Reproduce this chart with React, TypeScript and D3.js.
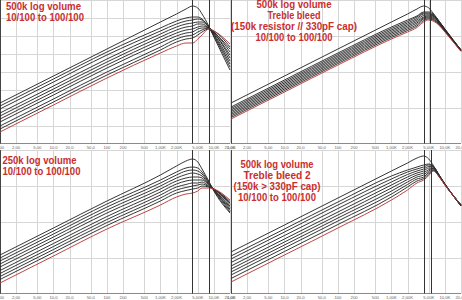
import React from "react";
import * as d3 from "d3";

// Frequencies (Hz) at which curve levels were read
const FREQS = [1, 10, 100, 1000, 2000, 3000, 4000, 5000, 6000, 8000, 10000, 20000];

// x-axis ticks
const TICK_FREQS = [1, 2, 5, 10, 20, 50, 100, 200, 500, 1000, 2000, 5000, 10000, 20000];
const TICK_LABELS = ["1,00", "2,00", "5,00", "10,0", "20,0", "50,0", "100", "200", "500", "1,00K", "2,00K", "5,00K", "10,0K", "20,0K"];

// Levels in dB: one row per frequency, 10 volume settings (100/100 ... 10/100) per row
const P1_LEVELS = [
  [-51.5, -53, -54.5, -56.5, -58, -59.5, -61, -63, -64.5, -66],
  [-38, -39.5, -41, -43, -44.5, -46, -47.5, -49.5, -51, -52.5],
  [-24.5, -26, -27.5, -29.5, -31, -32.5, -34, -36, -37.5, -39],
  [-11, -14, -15.5, -17, -18.5, -20, -21.5, -23.5, -25, -26.5],
  [-7, -10.5, -12, -13.5, -15, -16.5, -18, -19.5, -21, -23],
  [-4.5, -9, -10.5, -12, -13.5, -15, -16.5, -18, -19.5, -21.5],
  [-3, -8.5, -10, -11.5, -13, -14.5, -16, -17.5, -19, -21.5],
  [-4, -8.5, -9.5, -11, -12, -13.5, -14.5, -16, -17.5, -19.5],
  [-7, -9.5, -10, -11, -12, -13, -14, -15, -16, -17.5],
  [-13, -13.5, -13.5, -13.5, -14, -14, -14, -14, -14.5, -14.5],
  [-18.5, -18, -17.5, -17, -16.5, -16.5, -16, -16, -15.5, -15.5],
  [-35, -33.5, -32, -30.5, -29, -27.5, -26, -24.5, -23.5, -22],
];

const P2_LEVELS = [
  [-51.5, -53.5, -54.25, -55, -55.75, -56.5, -57.25, -58, -58.75, -59.5],
  [-38, -40, -40.75, -41.5, -42.25, -43, -43.75, -44.5, -45.25, -46],
  [-24.5, -26.5, -27.25, -28, -28.75, -29.5, -30.25, -31, -31.75, -32.5],
  [-11, -13.5, -14.25, -15, -15.75, -16.5, -17.25, -18, -18.75, -19.5],
  [-7, -10, -10.75, -11.5, -12.25, -13, -13.75, -14.5, -15.25, -16],
  [-4.5, -8, -8.5, -9.25, -10, -10.75, -11.5, -12.25, -13, -13.75],
  [-3, -6, -6.5, -7, -7.75, -8.5, -9, -9.5, -10.25, -11],
  [-4, -6, -6.5, -7, -7.5, -8, -8.5, -9, -9.5, -10],
  [-6.5, -7, -7.5, -7.75, -8, -8.5, -9, -9.5, -10, -10.5],
  [-11, -11, -11.25, -11.5, -11.75, -12, -12.25, -12.5, -12.75, -13],
  [-14.5, -14.5, -14.75, -15, -15, -15.25, -15.5, -15.5, -15.75, -16],
  [-25, -25, -25, -25, -25.25, -25.25, -25.5, -25.5, -25.5, -25.75],
];

const P3_LEVELS = [
  [-52.5, -54, -55.5, -57, -58.5, -60.25, -61.75, -63.25, -64.75, -66.5],
  [-39, -40.5, -42, -43.5, -45, -46.75, -48.25, -49.75, -51.25, -53],
  [-25.5, -27, -28.5, -30, -31.5, -33.25, -34.75, -36.25, -37.75, -39.5],
  [-12.5, -15, -16.5, -18, -19.5, -21, -22.5, -24, -25.5, -27.5],
  [-8, -11, -12.5, -14, -15.5, -17, -18.5, -20, -21.5, -23.5],
  [-5.5, -9, -10.5, -12.25, -14, -15.5, -17.25, -18.75, -20.25, -22],
  [-4.5, -8.5, -10, -11.5, -13.5, -15, -16.5, -18, -19.5, -21.5],
  [-6, -9, -10.5, -12, -13.5, -15, -16.5, -17.5, -19, -20.5],
  [-9.5, -11, -12, -13, -14, -15, -16, -17, -18, -19],
  [-15.5, -16, -16.5, -17, -17.25, -17.5, -18, -18.25, -18.5, -19],
  [-20.5, -20.25, -20, -20, -19.75, -19.75, -19.5, -19.5, -19.5, -19.5],
  [-31.5, -31, -30.25, -29.5, -28.75, -28, -27.25, -26.5, -25.75, -25],
];

const P4_LEVELS = [
  [-51, -53, -54.5, -56.25, -58, -59.5, -61, -62.5, -64.25, -66],
  [-37.5, -39.5, -41, -42.75, -44.5, -46, -47.5, -49, -50.75, -52.5],
  [-24, -26, -27.5, -29.25, -31, -32.5, -34, -35.5, -37.25, -39],
  [-10.5, -13, -14.5, -16, -17.5, -19, -20.5, -22, -23.5, -25],
  [-6.5, -10, -11, -12.25, -13.5, -14.75, -16, -17.25, -18.5, -20],
  [-4, -8.5, -9.5, -10.5, -11.5, -12.5, -13.5, -14.5, -15.5, -16.5],
  [-3, -7.5, -8.5, -9.5, -10.5, -11.5, -12.5, -13.5, -14.25, -15],
  [-4.5, -7, -7.5, -8.25, -9, -9.75, -10.5, -11.25, -12, -12.75],
  [-7.5, -8, -8.25, -8.5, -9, -9.25, -9.5, -10, -10.25, -10.5],
  [-13, -13, -13, -13.25, -13.25, -13.5, -13.5, -13.5, -13.75, -13.75],
  [-17, -17, -17, -17, -17.25, -17.25, -17.25, -17.25, -17.5, -17.5],
  [-28, -28, -28, -27.75, -27.75, -27.5, -27.5, -27.5, -27.25, -27.25],
];

// Cursor frequencies (Hz)
const P1_CURSORS = [3900, 8000];
const P2_CURSORS = [4050, 5300];
const P3_CURSORS = [3950, 8000];
const P4_CURSORS = [4000, 5400];

// Titles
const P1_TITLE = ["500k log volume", "10/100 to 100/100"];
const P2_TITLE = ["500k log volume", "Treble bleed", "(150k resistor // 330pF cap)", "10/100 to 100/100"];
const P3_TITLE = ["250k log volume", "10/100 to 100/100"];
const P4_TITLE = ["500k log volume", "Treble bleed 2", "(150k > 330pF cap)", "10/100 to 100/100"];

const PLOT_W = 230;
const PLOT_H = 144;
const RED = "#c92e2e";

type PanelProps = {
  x0: number;
  y0: number;
  levels: number[][];
  cursors: number[];
  gridStep: number;
  title: string[];
  titleAnchor: "start" | "middle";
  titleX: number;
  titleY: number;
  titleWidths: number[];
};

function Panel(p: PanelProps) {
  const x = d3.scaleLog().domain([1, 20000]).range([p.x0, p.x0 + PLOT_W]);
  const y = d3.scaleLinear().domain([-72, 0]).range([p.y0 + PLOT_H, p.y0]);
  const nCurves = p.levels[0].length;
  const curves = d3.range(nCurves).map((i) => p.levels.map((row, k) => ({ f: FREQS[k], v: row[i] })));
  const line = d3
    .line<{ f: number; v: number }>()
    .x((d) => x(d.f))
    .y((d) => y(d.v))
    .curve(d3.curveMonotoneX);
  const hGrid = d3.range(-72 + p.gridStep, 0.001, p.gridStep);
  const snap = (v: number) => Math.round(v) + 0.5;
  const axisY = snap(y(-72)) - 1;
  return (
    <g>
      {TICK_FREQS.map((f, i) => (
        <line key={"v" + i} x1={snap(x(f))} x2={snap(x(f))} y1={p.y0} y2={axisY} stroke="#d6d6d6" strokeWidth={1} />
      ))}
      {hGrid.map((g, i) => (
        <line key={"h" + i} x1={p.x0} x2={p.x0 + PLOT_W} y1={snap(y(g))} y2={snap(y(g))} stroke="#d6d6d6" strokeWidth={1} />
      ))}
      <line x1={p.x0} x2={p.x0 + PLOT_W} y1={axisY} y2={axisY} stroke="#8a8a8a" strokeWidth={1} />
      <line x1={snap(p.x0)} x2={snap(p.x0)} y1={p.y0} y2={axisY} stroke="#444" strokeWidth={1} />
      {TICK_FREQS.map((f, i) => (
        <text key={"t" + i} x={x(f)} y={axisY + 5} fontSize={4.2} fill="#666" textAnchor="middle" fontFamily="Liberation Sans, Arial, sans-serif">
          {TICK_LABELS[i]}
        </text>
      ))}
      {curves.map((c, i) => (
        <path key={"c" + i} d={line(c) || ""} fill="none" stroke={i === nCurves - 1 ? "#b83a3a" : "#2b2b2b"} strokeWidth={0.95} />
      ))}
      {p.cursors.map((f, i) => (
        <line key={"k" + i} x1={snap(x(f))} x2={snap(x(f))} y1={p.y0} y2={axisY} stroke="#333" strokeWidth={1} />
      ))}
      {p.title.map((t, i) => (
        <text
          key={"ti" + i}
          x={p.titleX}
          y={p.titleY + i * 11.3}
          fontSize={10.6}
          fontWeight="bold"
          fill={RED}
          textAnchor={p.titleAnchor}
          fontFamily="Liberation Sans, Arial, sans-serif"
          textLength={p.titleWidths[i]}
          lengthAdjust="spacingAndGlyphs"
        >
          {t}
        </text>
      ))}
    </g>
  );
}

export default function App() {
  return (
    <svg width={462} height={300} style={{ position: "absolute", left: 0, top: 0, background: "#fff" }}>
      <rect x={0} y={0} width={462} height={300} fill="#fff" />
      <Panel x0={0} y0={0} levels={P1_LEVELS} cursors={P1_CURSORS} gridStep={9} title={P1_TITLE}
        titleAnchor="start" titleX={6} titleY={9.5} titleWidths={[75, 78]} />
      <Panel x0={231} y0={0} levels={P2_LEVELS} cursors={P2_CURSORS} gridStep={18} title={P2_TITLE}
        titleAnchor="middle" titleX={294} titleY={7.5} titleWidths={[75, 53, 126, 77]} />
      <Panel x0={0} y0={150} levels={P3_LEVELS} cursors={P3_CURSORS} gridStep={18} title={P3_TITLE}
        titleAnchor="start" titleX={2.5} titleY={163.5} titleWidths={[74, 78]} />
      <Panel x0={231} y0={150} levels={P4_LEVELS} cursors={P4_CURSORS} gridStep={18} title={P4_TITLE}
        titleAnchor="middle" titleX={277} titleY={167.5} titleWidths={[73, 67, 87, 78]} />
    </svg>
  );
}
